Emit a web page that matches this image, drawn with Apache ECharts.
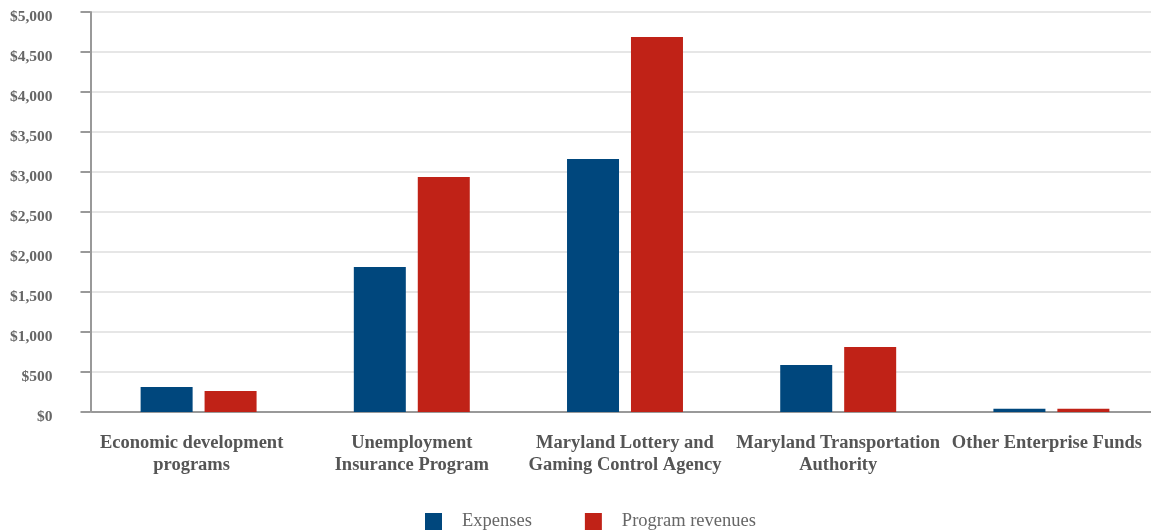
<!DOCTYPE html>
<html><head><meta charset="utf-8">
<script src="https://cdn.jsdelivr.net/npm/echarts@6/dist/echarts.min.js"></script>
<style>html,body{margin:0;padding:0;background:#fff;overflow:hidden}#c{width:1158px;height:531px}</style>
</head><body><div id="c"></div>
<script>
const categories = ["Economic development\nprograms", "Unemployment\nInsurance Program", "Maryland Lottery and\nGaming Control Agency", "Maryland Transportation\nAuthority", "Other Enterprise Funds"];
const expenses = [312, 1812, 3162, 587, 40];
const revenues = [262, 2937, 4687, 812, 40];
const seriesNames = ["Expenses", "Program revenues"];
const font = "'Liberation Serif', 'Times New Roman', serif";
const chart = echarts.init(document.getElementById('c'));
const catLabel = {fontFamily: font, fontWeight: 'bold', fontSize: 18.5, color: '#555', lineHeight: 22};
chart.setOption({
  animation: false,
  textStyle: {fontFamily: font},
  grid: {left: 92, right: 0, top: 12, bottom: 119, containLabel: false},
  legend: {
    bottom: -5, left: 420, itemWidth: 17, itemHeight: 17, itemGap: 53,
    icon: 'rect',
    textStyle: {fontFamily: font, fontSize: 18.5, color: '#666', padding: [0, 0, 0, 15]},
    data: seriesNames
  },
  xAxis: {
    type: 'category', data: categories,
    axisLine: {lineStyle: {color: '#999', width: 2}},
    axisTick: {show: false},
    axisLabel: Object.assign({}, catLabel, {margin: 20, interval: 0,
      formatter: (v, i) => v.split('\n').map(s => '{' + (i === 0 ? 'a' : i === categories.length - 1 ? 'b' : 'c') + '|' + s + '}').join('\n'),
      rich: {
        a: Object.assign({}, catLabel, {padding: [0, 14, 0, 0]}),
        b: Object.assign({}, catLabel, {padding: [0, 9, 0, 0]}),
        c: Object.assign({}, catLabel)
      }})
  },
  yAxis: {
    type: 'value', min: 0, max: 5000, interval: 500, offset: 1.5,
    axisLine: {show: true, lineStyle: {color: '#999', width: 2}},
    axisTick: {show: true, length: 10, lineStyle: {color: '#999', width: 2}},
    splitLine: {lineStyle: {color: '#e6e6e6', width: 2}},
    axisLabel: {fontFamily: font, fontWeight: 'bold', fontSize: 15.5, color: '#666', margin: 38,
      verticalAlign: 'top', lineHeight: 9,
      formatter: v => '$' + v.toLocaleString('en-US')}
  },
  series: [
    {name: seriesNames[0], type: 'bar', data: expenses, barWidth: 52, barGap: '23%', itemStyle: {color: '#00477d'}},
    {name: seriesNames[1], type: 'bar', data: revenues, barWidth: 52, itemStyle: {color: '#c02217'}}
  ]
});
</script></body></html>
